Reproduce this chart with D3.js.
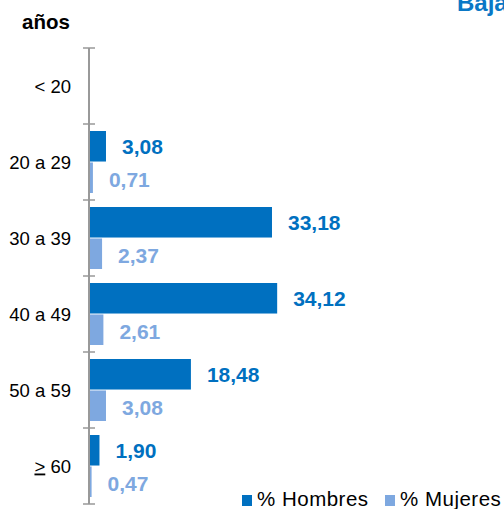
<!DOCTYPE html>
<html>
<head>
<meta charset="utf-8">
<script src="https://cdn.jsdelivr.net/npm/d3@7"></script>
<style>
body { margin: 0; background: #fff; }
text { font-family: "Liberation Sans", Arial, sans-serif; }
</style>
</head>
<body>
<svg></svg>
<script>
var categories = ["< 20", "20 a 29", "30 a 39", "40 a 49", "50 a 59", "> 60"];
var hombres = [0, 3.08, 33.18, 34.12, 18.48, 1.90];
var mujeres = [0, 0.71, 2.37, 2.61, 3.08, 0.47];
var seriesNames = ["% Hombres", "% Mujeres"];
var colors = ["#0070C0", "#7EA8E0"];

var w = 504, h = 509;

var svg = d3.select("svg")
	.attr("width", w)
	.attr("height", h);

var fmt = d3.formatLocale({decimal: ",", thousands: ".", grouping: [3], currency: ["", ""]}).format(".2f");

var y = d3.scaleBand()
	.domain(categories)
	.range([48, 504]);

var ySeries = d3.scaleBand()
	.domain(seriesNames)
	.range([7, 69])
	.paddingInner(0.03);

var x = d3.scaleLinear()
	.domain([0, 40])
	.range([89, 89 + 40 * 5.515]);

var rows = categories.map(function (c, i) {
	return {cat: c, vals: [hombres[i], mujeres[i]]};
});

// title, cut off at the top and right edge like in the original
svg.append("text")
	.attr("x", 457)
	.attr("y", 11)
	.attr("font-size", 24)
	.attr("font-weight", "bold")
	.attr("fill", "#0A78C6")
	.text("Baja");

svg.append("text")
	.attr("x", 22)
	.attr("y", 29)
	.attr("font-size", 20.5)
	.attr("font-weight", "bold")
	.attr("fill", "#000")
	.text("años");

var g = svg.selectAll("g.row")
	.data(rows)
	.join("g")
	.attr("class", "row")
	.attr("transform", function (d) {
		return "translate(0," + y(d.cat) + ")";
	});

g.selectAll("rect")
	.data(function (d) {
		return d.vals.map(function (v, j) { return {v: v, s: j}; });
	})
	.join("rect")
	.filter(function (d) { return d.v > 0; })
	.attr("x", x(0))
	.attr("y", function (d) { return ySeries(seriesNames[d.s]); })
	.attr("width", function (d) { return x(d.v) - x(0); })
	.attr("height", ySeries.bandwidth())
	.attr("fill", function (d) { return colors[d.s]; });

g.selectAll("text.val")
	.data(function (d) {
		return d.vals.map(function (v, j) { return {v: v, s: j}; }).filter(function (d) { return d.v > 0; });
	})
	.join("text")
	.attr("class", "val")
	.attr("x", function (d) { return x(d.v) + 16; })
	.attr("y", function (d) { return ySeries(seriesNames[d.s]) + ySeries.bandwidth() / 2 + 7.5 + d.s * 2; })
	.attr("font-size", 21)
	.attr("font-weight", "bold")
	.attr("fill", function (d) { return colors[d.s]; })
	.text(function (d) { return fmt(d.v); });

// category labels
var lab = svg.selectAll("text.cat")
	.data(categories)
	.join("text")
	.attr("class", "cat")
	.attr("x", 71)
	.attr("y", function (d) { return y(d) + y.bandwidth() / 2 + 6.5; })
	.attr("text-anchor", "end")
	.attr("font-size", 18.5)
	.attr("fill", "#000");

lab.each(function (d) {
	var t = d3.select(this);
	if (d.charAt(0) == ">") {
		t.append("tspan").attr("text-decoration", "underline").text(">");
		t.append("tspan").text(d.slice(1));
	} else {
		t.text(d);
	}
});

// axis line with ticks between categories
var edges = categories.map(function (c) { return y(c); }).concat([y.range()[1]]);
svg.append("line")
	.attr("x1", x(0)).attr("x2", x(0))
	.attr("y1", edges[0]).attr("y2", edges[edges.length - 1])
	.attr("stroke", "#999")
	.attr("stroke-width", 2);
svg.selectAll("line.tick")
	.data(edges)
	.join("line")
	.attr("class", "tick")
	.attr("x1", x(0) - 6).attr("x2", x(0) + 6)
	.attr("y1", function (d) { return d; }).attr("y2", function (d) { return d; })
	.attr("stroke", "#999")
	.attr("stroke-width", 1.5);

// legend
var legX = [242, 385];
var leg = svg.selectAll("g.leg")
	.data(seriesNames)
	.join("g")
	.attr("class", "leg")
	.attr("transform", function (d, i) { return "translate(" + legX[i] + ",495)"; });
leg.append("rect")
	.attr("width", 10)
	.attr("height", 11)
	.attr("fill", function (d, i) { return colors[i]; });
leg.append("text")
	.attr("x", 15)
	.attr("y", 11)
	.attr("font-size", 20.5)
	.attr("letter-spacing", 0.5)
	.attr("fill", "#000")
	.text(function (d) { return d; });
</script>
</body>
</html>
